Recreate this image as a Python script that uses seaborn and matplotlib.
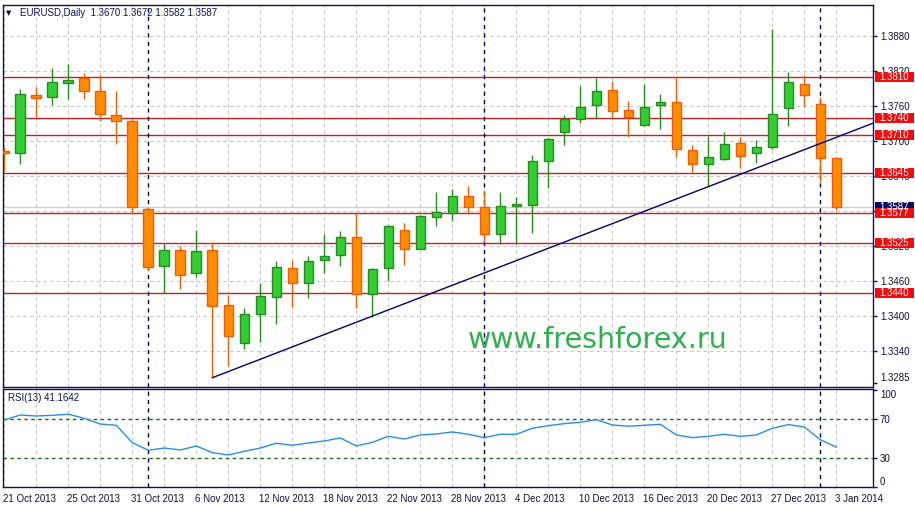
import numpy as np
import pandas as pd
import matplotlib
matplotlib.use("Agg")
import matplotlib.pyplot as plt
import matplotlib.transforms as mtransforms
from matplotlib.patches import Rectangle
import seaborn as sns

# --- data -----------------------------------------------------------------
dates = ["2013-10-21", "2013-10-22", "2013-10-23", "2013-10-24", "2013-10-25",
         "2013-10-28", "2013-10-29", "2013-10-30", "2013-10-31", "2013-11-01",
         "2013-11-04", "2013-11-05", "2013-11-06", "2013-11-07", "2013-11-08",
         "2013-11-11", "2013-11-12", "2013-11-13", "2013-11-14", "2013-11-15",
         "2013-11-18", "2013-11-19", "2013-11-20", "2013-11-21", "2013-11-22",
         "2013-11-25", "2013-11-26", "2013-11-27", "2013-11-28", "2013-11-29",
         "2013-12-02", "2013-12-03", "2013-12-04", "2013-12-05", "2013-12-06",
         "2013-12-09", "2013-12-10", "2013-12-11", "2013-12-12", "2013-12-13",
         "2013-12-16", "2013-12-17", "2013-12-18", "2013-12-19", "2013-12-20",
         "2013-12-23", "2013-12-24", "2013-12-26", "2013-12-27", "2013-12-30",
         "2013-12-31", "2014-01-02", "2014-01-03"]

opens = [1.3683, 1.3679, 1.3778, 1.3775, 1.3799, 1.3808, 1.3785, 1.3744, 1.3735, 1.3584,
         1.3486, 1.3513, 1.3473, 1.3513, 1.3418, 1.3354, 1.3404, 1.3433, 1.3482, 1.3457,
         1.3496, 1.3504, 1.3536, 1.3437, 1.3482, 1.3547, 1.3514, 1.3569, 1.3576, 1.3606,
         1.3586, 1.3540, 1.3588, 1.3590, 1.3665, 1.3715, 1.3738, 1.3761, 1.3787, 1.3753,
         1.3727, 1.3761, 1.3766, 1.3684, 1.3660, 1.3669, 1.3696, 1.3679, 1.3689, 1.3756,
         1.3797, 1.3763, 1.3670]
highs = [1.3690, 1.3790, 1.3792, 1.3825, 1.3832, 1.3816, 1.3813, 1.3786, 1.3738, 1.3586,
         1.3523, 1.3520, 1.3547, 1.3527, 1.3436, 1.3413, 1.3456, 1.3495, 1.3496, 1.3503,
         1.3540, 1.3546, 1.3576, 1.3483, 1.3556, 1.3559, 1.3573, 1.3612, 1.3617, 1.3622,
         1.3614, 1.3612, 1.3604, 1.3676, 1.3705, 1.3745, 1.3794, 1.3808, 1.3803, 1.3769,
         1.3798, 1.3780, 1.3811, 1.3693, 1.3709, 1.3715, 1.3706, 1.3701, 1.3892, 1.3818,
         1.3813, 1.3775, 1.3672]
lows = [1.3649, 1.3660, 1.3741, 1.3762, 1.3772, 1.3772, 1.3735, 1.3695, 1.3575, 1.3478,
        1.3439, 1.3447, 1.3466, 1.3293, 1.3314, 1.3343, 1.3356, 1.3386, 1.3416, 1.3430,
        1.3473, 1.3486, 1.3413, 1.3399, 1.3460, 1.3488, 1.3514, 1.3555, 1.3562, 1.3576,
        1.3526, 1.3523, 1.3524, 1.3542, 1.3619, 1.3693, 1.3731, 1.3738, 1.3737, 1.3707,
        1.3726, 1.3721, 1.3673, 1.3647, 1.3623, 1.3667, 1.3653, 1.3663, 1.3686, 1.3726,
        1.3759, 1.3629, 1.3582]
closes = [1.3679, 1.3780, 1.3774, 1.3801, 1.3804, 1.3785, 1.3746, 1.3735, 1.3586, 1.3484,
          1.3513, 1.3471, 1.3511, 1.3417, 1.3366, 1.3404, 1.3434, 1.3484, 1.3457, 1.3494,
          1.3502, 1.3536, 1.3437, 1.3480, 1.3555, 1.3514, 1.3571, 1.3578, 1.3606, 1.3587,
          1.3540, 1.3588, 1.3592, 1.3665, 1.3703, 1.3737, 1.3759, 1.3785, 1.3751, 1.3741,
          1.3759, 1.3766, 1.3686, 1.3660, 1.3672, 1.3694, 1.3675, 1.3689, 1.3747, 1.3802,
          1.3778, 1.3670, 1.3587]

rsi = [69.3, 74.4, 73.4, 74.1, 75.2, 71.0, 65.1, 63.8, 45.8, 38.0,
       40.3, 38.3, 42.4, 35.5, 33.1, 36.9, 40.3, 45.2, 43.1, 45.5,
       47.6, 50.7, 42.4, 46.2, 52.4, 49.6, 53.8, 54.8, 56.9, 54.5,
       51.0, 54.5, 54.5, 60.7, 63.4, 65.5, 66.9, 69.6, 64.1, 62.8,
       63.8, 64.8, 53.8, 51.0, 52.4, 54.5, 52.4, 53.8, 60.7, 64.5,
       62.0, 48.9, 41.1642]

levels = [1.3810, 1.3740, 1.3710, 1.3645, 1.3577, 1.3525, 1.3440]
bid = 1.3587
price_ticks = [1.3285, 1.3340, 1.3400, 1.3460, 1.3520, 1.3580, 1.3640,
               1.3700, 1.3760, 1.3820, 1.3880]
rsi_ticks = [0, 30, 70, 100]
rsi_levels = [30, 70]
trend_points = [(13, 1.3294), (48, 1.3664)]   # (bar, price)

# --- setup ----------------------------------------------------------------
W, H = 915, 507
sns.set_style("white")
plt.rcParams["font.family"] = ["Liberation Sans", "DejaVu Sans"]
plt.rcParams["font.size"] = 7

NAVY = "#10105a"
GREEN_FILL, GREEN_EDGE = "#32cd32", "#2a8a22"
ORANGE_FILL, ORANGE_EDGE = "#ff8c00", "#ec5e0c"
GRID = "#c8c8c8"

fig = plt.figure(figsize=(W / 100, H / 100), dpi=100, facecolor="white")
ax = fig.add_axes([3 / W, 1 - 387 / H, 870 / W, 382 / H])
ax_rsi = fig.add_axes([3 / W, 1 - 487 / H, 870 / W, 98 / H], sharex=ax)

df = pd.DataFrame({"date": pd.to_datetime(dates), "open": opens, "high": highs,
                   "low": lows, "close": closes, "rsi": rsi})
df["x"] = np.arange(len(df))
up = df["close"] >= df["open"]

# --- candles --------------------------------------------------------------
wick_colors = np.where(up, GREEN_EDGE, ORANGE_EDGE)
ax.vlines(df["x"], df["low"], df["high"], colors=wick_colors, lw=1, zorder=3)
body = (df["close"] - df["open"]).abs().clip(lower=0.00006)
ax.bar(df["x"], body, bottom=df[["open", "close"]].min(axis=1), width=0.6,
       color=np.where(up, GREEN_FILL, ORANGE_FILL), edgecolor=wick_colors,
       linewidth=1, zorder=4)

# --- levels, trend line, separators ---------------------------------------
for lv in levels:
    ax.axhline(lv, color="#c22026", lw=1, zorder=2)
ax.axhline(bid, color="#cfcfcf", lw=1, zorder=1.5)

x_right = 54.29
(x0, p0), (x1, p1) = trend_points
slope = (p1 - p0) / (x1 - x0)
ax.plot([x0, x_right + 1], [p0, p0 + slope * (x_right + 1 - x0)],
        color="#000070", lw=1, zorder=5)

month_starts = df.index[df["date"].dt.month != df["date"].dt.month.shift()][1:]
for a in (ax, ax_rsi):
    for m in month_starts:
        a.axvline(m, color="#000050", lw=1, ls=(0, (3, 3)), zorder=2)

# --- RSI --------------------------------------------------------------------
sns.lineplot(data=df, x="x", y="rsi", ax=ax_rsi, color="#2a8ee8", lw=1, zorder=4)
for lv in rsi_levels:
    ax_rsi.axhline(lv, color="#1c6a1c", lw=1, ls=(0, (2.5, 2.5)), zorder=2)

# --- axes styling ---------------------------------------------------------
ax.set_xlim(-0.08, x_right)
ax.set_ylim(1.32781, 1.39332)
ax_rsi.set_ylim(0, 101.3)

for a in (ax, ax_rsi):
    a.yaxis.tick_right()
    a.set_xlabel("")
    a.set_ylabel("")
    for s in a.spines.values():
        s.set_color(NAVY)
        s.set_linewidth(1)
    a.set_xticks(np.arange(0, len(df), 2), minor=True)
    a.grid(True, which="both", axis="x", color=GRID, lw=0.8, ls=(0, (3, 3)))
    a.tick_params(which="minor", length=0)
    a.tick_params(axis="y", which="major", length=3, width=1, color=NAVY,
                  labelcolor="#101040", labelsize=7, pad=2)

label_idx = np.arange(0, len(df), 4)
ax_rsi.set_xticks(label_idx)
ax_rsi.set_xticklabels([f"{d.day} {d:%b %Y}" for d in df["date"].iloc[label_idx]],
                       ha="left")
ax_rsi.tick_params(axis="x", which="major", length=3, width=1, color=NAVY,
                   labelcolor="#101040", labelsize=7, pad=2)
for t in ax_rsi.get_xticklabels():
    t.set_transform(t.get_transform() + mtransforms.ScaledTranslation(-1.5 / 100, 0, fig.dpi_scale_trans))
ax.tick_params(axis="x", which="both", bottom=False, labelbottom=False)

ax.set_yticks(price_ticks)
ax.set_yticklabels([f"{p:.4f}" for p in price_ticks])
ax.grid(True, which="major", axis="y", color=GRID, lw=0.8, ls=(0, (3, 3)))
ax.yaxis.get_gridlines()[0].set_visible(False)
ax.get_yticklabels()[0].set_va("bottom")

ax_rsi.set_yticks(rsi_ticks)
ax_rsi.set_yticklabels([str(v) for v in rsi_ticks])
ax_rsi.get_yticklabels()[0].set_va("bottom")
ax_rsi.get_yticklabels()[-1].set_va("top")

# --- price labels on the right axis ----------------------------------------
blend = mtransforms.blended_transform_factory(ax.transAxes, ax.transData)
box_h = 10 / 5832


def price_box(price, face):
    ax.add_patch(Rectangle((872 / 870, price - box_h / 2), 39 / 870, box_h,
                           transform=blend, facecolor=face, edgecolor="none",
                           clip_on=False, zorder=6))
    ax.text(891.5 / 870, price, f"{price:.4f}", transform=blend, ha="center",
            va="center", color="white", fontsize=7, clip_on=False, zorder=7)


price_box(bid, "#0a0a60")
for lv in levels:
    price_box(lv, "#f20d0d")

# --- texts ----------------------------------------------------------------
fig.text(6 / W, 1 - 13 / H, "▼", fontsize=5, color=NAVY, va="center",
         family=["DejaVu Sans"])
fig.text(20 / W, 1 - 13 / H,
         f"EURUSD,Daily  {opens[-1]:.4f} {highs[-1]:.4f} {lows[-1]:.4f} {closes[-1]:.4f}",
         fontsize=7, color=NAVY, va="center")
fig.text(8 / W, 1 - 398 / H, f"RSI(13) {rsi[-1]:.4f}", fontsize=7,
         color=NAVY, va="center")
fig.text(598 / W, 1 - 340 / H, "www.freshforex.ru", fontsize=20.5,
         color="#2eb04d", ha="center", va="center", family=["DejaVu Sans"])

fig.savefig("out.png", dpi=100, facecolor="white")
